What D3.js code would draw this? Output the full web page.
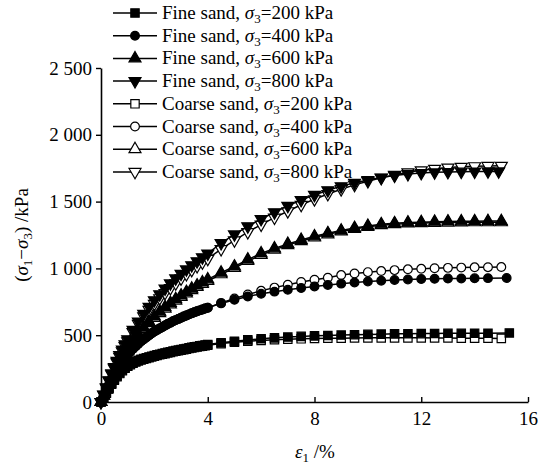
<!DOCTYPE html>
<html><head><meta charset="utf-8">
<script src="https://cdn.jsdelivr.net/npm/d3@7/dist/d3.min.js"></script>
<style>
html,body{margin:0;padding:0;background:#fff;}
svg{display:block;font-family:"Liberation Serif","Times New Roman",serif;}
</style></head>
<body>
<svg id="chart" width="538" height="470"></svg>
<script>
// ---- data ----
// strain grid (%) for the 200/400 kPa tests
const strainDense = [0,0.1,0.2,0.3,0.4,0.5,0.6,0.7,0.8,0.9,1.0,1.1,1.2,1.3,1.4,1.5,1.6,1.7,1.8,1.9,2.0,
  2.1,2.2,2.3,2.4,2.5,2.6,2.7,2.8,2.9,3.0,3.1,3.2,3.3,3.4,3.5,3.6,3.7,3.8,3.9,4.0,
  4.5,5.0,5.5,6.0,6.5,7.0,7.5,8.0,8.5,9.0,9.5,10.0,10.5,11.0,11.5,12.0,12.5,13.0,13.5,14.0,14.5,15.0];
// strain grid (%) for the 600/800 kPa tests
const strainSparse = [0,0.1,0.2,0.3,0.4,0.5,0.6,0.7,0.8,0.9,1.0,
  1.2,1.4,1.6,1.8,2.0,2.2,2.4,2.6,2.8,3.0,3.2,3.4,3.6,3.8,4.0,
  4.5,5.0,5.5,6.0,6.5,7.0,7.5,8.0,8.5,9.0,9.5,10.0,10.5,11.0,11.5,12.0,12.5,13.0,13.5,14.0,14.5,15.0];
const endStrain = [15.3,15.2,15.0,14.9,15.0,15.0,15.0,15.0];
const seriesNames = ["Fine sand, ","Fine sand, ","Fine sand, ","Fine sand, ",
  "Coarse sand, ","Coarse sand, ","Coarse sand, ","Coarse sand, "];
const confining = ["200","400","600","800","200","400","600","800"];
const fine200 = [0,35,70,105,140,170,195,218,240,257,272,284,295,304,312,319,325,331,337,343,348,
  353,358,363,367,372,376,381,385,389,393,397,401,405,409,413,416,420,423,427,430,
  443,455,465,473,480,486,491,495,498,501,504,506,508,510,511,512,513,514,514,515,515,517];
const fine400 = [0,42,84,125,165,200,235,267,298,326,352,376,398,418,437,454,470,485,500,514,527,
  539,551,562,573,584,594,604,613,622,631,640,648,656,664,672,679,686,693,700,706,
  738,765,790,810,826,840,853,865,876,886,895,902,908,913,917,920,922,924,925,926,927,928];
const fine600 = [0,48,95,140,183,224,263,300,335,368,400,
  458,510,557,600,640,676,710,741,770,797,823,848,872,895,918,
  968,1014,1066,1112,1150,1183,1213,1240,1263,1283,1302,1318,1330,1338,1343,1346,1349,1351,1352,1353,1354,1354];
const fine800 = [0,55,110,163,214,262,308,351,393,432,470,
  540,603,660,713,762,807,849,888,925,960,993,1024,1054,1083,1111,
  1190,1255,1315,1370,1420,1468,1512,1550,1585,1615,1640,1662,1680,1695,1706,1714,1719,1722,1724,1725,1726,1726];
const coarse200 = [0,33,66,100,133,163,190,213,235,252,267,279,290,299,307,314,320,326,332,338,343,
  348,353,358,362,367,371,376,380,384,388,392,396,400,404,408,411,415,418,422,425,
  437,447,455,461,466,470,473,475,477,478,479,480,480,480,480,480,479,479,478,478,477,476];
const coarse400 = [0,42,84,125,165,200,235,267,298,326,352,376,398,418,437,454,470,485,500,514,527,
  539,551,562,573,584,594,604,613,622,631,640,648,656,664,672,679,686,693,700,706,
  742,775,805,832,856,878,898,915,930,950,962,972,980,987,993,997,1001,1004,1006,1008,1009,1010];
const coarse600 = [0,47,93,137,179,219,257,293,328,361,392,
  449,500,547,590,629,665,699,730,759,786,812,837,861,884,906,
  956,1003,1055,1100,1140,1174,1204,1231,1255,1276,1295,1311,1323,1331,1336,1339,1341,1343,1344,1345,1345,1345];
const coarse800 = [0,54,107,158,207,253,297,339,379,418,455,
  523,585,641,690,735,777,816,853,888,925,957,988,1017,1045,1072,
  1145,1210,1272,1328,1380,1428,1476,1518,1557,1593,1625,1653,1678,1700,1719,1734,1746,1755,1761,1765,1767,1768];
const seriesValues = [fine200,fine400,fine600,fine800,coarse200,coarse400,coarse600,coarse800];
const seriesStrain = [strainDense,strainDense,strainSparse,strainSparse,strainDense,strainDense,strainSparse,strainSparse];
const xTicks = [0,4,8,12,16];
const yTicks = [0,500,1000,1500,2000,2500];

// ---- layout ----
const svg = d3.select("#chart");
const x = d3.scaleLinear().domain([0,16]).range([101,528]);
const y = d3.scaleLinear().domain([0,2500]).range([402,68]);
const fmt = d3.formatLocale({decimal:".",thousands:" ",grouping:[3],currency:["",""]}).format(",");
const FS = 19;

const symbols = [d3.symbolSquare,d3.symbolCircle,d3.symbolTriangle,d3.symbolTriangle,
                 d3.symbolSquare,d3.symbolCircle,d3.symbolTriangle,d3.symbolTriangle];
const rotations = [0,0,0,180,0,0,0,180];
const sizes = [70,60,62,62,70,60,62,62];
const filled = [true,true,true,true,false,false,false,false];

// axes
const yAxis = d3.axisLeft(y).tickValues(yTicks).tickFormat(fmt).tickSize(5).tickSizeOuter(0).tickPadding(4);
const xAxis = d3.axisBottom(x).tickValues(xTicks).tickFormat(d3.format("d")).tickSize(-5).tickSizeOuter(0).tickPadding(10);
const gy = svg.append("g").attr("transform","translate(101,0)").call(yAxis);
const gx = svg.append("g").attr("transform","translate(0,402)").call(xAxis);
[gx,gy].forEach(g=>{
  g.selectAll("path.domain").attr("stroke","#000").attr("stroke-width",1.6);
  g.selectAll(".tick line").attr("stroke","#000").attr("stroke-width",1.4);
  g.selectAll(".tick text").attr("fill","#000").attr("font-size",FS)
    .attr("font-family","'Liberation Serif','Times New Roman',serif");
});

// series (coarse sand drawn first, fine sand on top)
const line = d3.line().x(d=>x(d[0])).y(d=>y(d[1]));
const drawOrder = [4,5,6,7,0,1,2,3];
drawOrder.forEach(i=>{
  const vals = seriesValues[i], xs = seriesStrain[i];
  const pts = vals.map((v,j)=>[j===vals.length-1?endStrain[i]:xs[j], v]);
  const g = svg.append("g");
  g.append("path").datum(pts).attr("d",line).attr("fill","none").attr("stroke","#000").attr("stroke-width",1.5);
  const sym = d3.symbol().type(symbols[i]).size(sizes[i]);
  g.selectAll("path.m").data(pts).join("path").attr("class","m")
    .attr("d",sym)
    .attr("transform",d=>`translate(${x(d[0])},${y(d[1])}) rotate(${rotations[i]})`)
    .attr("fill",filled[i]?"#000":"#fff").attr("stroke","#000").attr("stroke-width",1.2);
});

// legend
const lg = svg.append("g");
seriesValues.forEach((vals,i)=>{
  const cy = 13 + i*22.7;
  lg.append("line").attr("x1",113).attr("x2",157).attr("y1",cy).attr("y2",cy)
    .attr("stroke","#000").attr("stroke-width",1.5);
  lg.append("path").attr("d",d3.symbol().type(symbols[i]).size(sizes[i])())
    .attr("transform",`translate(135,${cy}) rotate(${rotations[i]})`)
    .attr("fill",filled[i]?"#000":"#fff").attr("stroke","#000").attr("stroke-width",1.2);
  const t = lg.append("text").attr("x",162).attr("y",cy+6).attr("font-size",FS).attr("fill","#000");
  t.append("tspan").text(seriesNames[i]);
  t.append("tspan").attr("font-style","italic").text("σ");
  t.append("tspan").attr("font-size",13).attr("dy",4).text("3");
  t.append("tspan").attr("dy",-4).text("=" + confining[i] + " kPa");
});

// axis titles
const xt = svg.append("text").attr("x",315).attr("y",458).attr("text-anchor","middle").attr("font-size",FS).attr("fill","#000");
xt.append("tspan").attr("font-style","italic").text("ε");
xt.append("tspan").attr("font-size",13).attr("dy",4).text("1");
xt.append("tspan").attr("dy",-4).text(" /%");

const yt = svg.append("text").attr("transform","translate(28,235) rotate(-90)").attr("text-anchor","middle").attr("font-size",FS).attr("fill","#000");
yt.append("tspan").text("(");
yt.append("tspan").attr("font-style","italic").text("σ");
yt.append("tspan").attr("font-size",13).attr("dy",4).text("1");
yt.append("tspan").attr("dy",-4).text("−");
yt.append("tspan").attr("font-style","italic").text("σ");
yt.append("tspan").attr("font-size",13).attr("dy",4).text("3");
yt.append("tspan").attr("dy",-4).text(") /kPa");
</script>
</body></html>
